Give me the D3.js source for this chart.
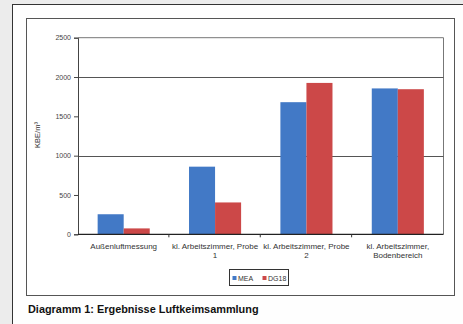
<!DOCTYPE html>
<html>
<head>
<meta charset="utf-8">
<script src="https://cdn.jsdelivr.net/npm/d3@7"></script>
<style>
  body { margin: 0; background: #ececec; }
  text { font-family: "Liberation Sans", Arial, sans-serif; }
</style>
</head>
<body>
<script>
  //chart data
  var categories = ["Außenluftmessung", "kl. Arbeitszimmer, Probe 1", "kl. Arbeitszimmer, Probe 2", "kl. Arbeitszimmer, Bodenbereich"];
  var seriesNames = ["MEA", "DG18"];
  var meaValues = [255, 860, 1680, 1855];
  var dg18Values = [75, 405, 1925, 1845];
  var yTicks = [0, 500, 1000, 1500, 2000, 2500];
  var gridValues = [1000, 2000];
  var colors = ["#4279c6", "#cc4848"];

  var width = 463, height = 324;

  var svg = d3.select("body").append("svg")
      .attr("width", width)
      .attr("height", height);

  //white page with the outer frame
  svg.append("rect")
      .attr("x", 12.5).attr("y", 4.5)
      .attr("width", 470).attr("height", 340)
      .attr("fill", "#fefefe")
      .attr("stroke", "#333")
      .attr("stroke-width", 1);

  //chart area frame
  svg.append("rect")
      .attr("x", 26.5).attr("y", 18.5)
      .attr("width", 428).attr("height", 277)
      .attr("fill", "#fff")
      .attr("stroke", "#555")
      .attr("stroke-width", 1);

  var plot = {left: 78, top: 37.7, right: 443.5, bottom: 234.3};

  var x = d3.scaleBand()
      .domain(categories)
      .range([plot.left, plot.right])
      .paddingInner(0.43)
      .paddingOuter(0.215);

  var x1 = d3.scaleBand()
      .domain(seriesNames)
      .range([0, x.bandwidth()]);

  var y = d3.scaleLinear()
      .domain([0, 2500])
      .range([plot.bottom, plot.top]);

  var g = svg.append("g");

  //plot border (top and right)
  g.append("path")
      .attr("d", "M" + plot.left + "," + y(2500) + "H" + plot.right + "V" + plot.bottom)
      .attr("fill", "none")
      .attr("stroke", "#777")
      .attr("stroke-width", 1);

  //gridlines
  g.selectAll(".grid")
      .data(gridValues)
      .enter()
      .append("line")
      .attr("class", "grid")
      .attr("x1", plot.left).attr("x2", plot.right)
      .attr("y1", function(d){ return Math.round(y(d)) + 0.5; })
      .attr("y2", function(d){ return Math.round(y(d)) + 0.5; })
      .attr("stroke", "#555")
      .attr("stroke-width", 1);

  //bars
  var rows = categories.map(function(c, i){
    return [{cat: c, s: 0, v: meaValues[i]}, {cat: c, s: 1, v: dg18Values[i]}];
  });

  g.selectAll(".grp")
      .data(rows)
      .enter()
      .append("g")
      .attr("class", "grp")
      .attr("transform", function(d){ return "translate(" + x(d[0].cat) + ",0)"; })
      .selectAll("rect")
      .data(function(d){ return d; })
      .enter()
      .append("rect")
      .attr("x", function(d){ return x1(seriesNames[d.s]); })
      .attr("width", x1.bandwidth())
      .attr("y", function(d){ return y(d.v); })
      .attr("height", function(d){ return y(0) - y(d.v); })
      .attr("fill", function(d){ return colors[d.s]; });

  //y axis
  var yAxis = g.append("g")
      .attr("transform", "translate(" + plot.left + ",0)")
      .call(d3.axisLeft(y).tickValues(yTicks).tickSize(4).tickPadding(3).tickFormat(d3.format("d")));
  yAxis.select(".domain").attr("stroke", "#444");
  yAxis.selectAll(".tick line").attr("stroke", "#444");
  yAxis.selectAll("text")
      .attr("font-size", "7px")
      .attr("fill", "#444")
      .style("font-family", "'Liberation Sans', Arial, sans-serif");

  //x axis with ticks between categories
  var step = x.step();
  var xAxis = g.append("g")
      .attr("transform", "translate(0," + plot.bottom + ")");
  xAxis.append("line")
      .attr("x1", plot.left).attr("x2", plot.right)
      .attr("stroke", "#222").attr("stroke-width", 1.2);
  xAxis.selectAll(".xtick")
      .data(categories.slice(1))
      .enter()
      .append("line")
      .attr("class", "xtick")
      .attr("x1", function(d){ return x(d) - step * 0.215 - 0.5; })
      .attr("x2", function(d){ return x(d) - step * 0.215 - 0.5; })
      .attr("y1", 0).attr("y2", 3)
      .attr("stroke", "#333");

  xAxis.selectAll(".xlabel")
      .data(categories)
      .enter()
      .append("text")
      .attr("class", "xlabel")
      .attr("x", function(d){ return x(d) + x.bandwidth() / 2; })
      .attr("y", 14.5)
      .attr("text-anchor", "middle")
      .attr("font-size", "8px")
      .attr("fill", "#333")
      .text(function(d){ return d; })
      .call(wrap, 90);

  function wrap(sel, w){
    sel.each(function(){
      var t = d3.select(this),
          words = t.text().split(/\s+/),
          line = [],
          xx = t.attr("x"),
          tspan = t.text(null).append("tspan").attr("x", xx).attr("dy", 0);
      words.forEach(function(word){
        line.push(word);
        tspan.text(line.join(" "));
        if (tspan.node().getComputedTextLength() > w && line.length > 1){
          line.pop();
          tspan.text(line.join(" "));
          line = [word];
          tspan = t.append("tspan").attr("x", xx).attr("dy", "1.2em").text(word);
        }
      });
    });
  }

  //y axis title
  svg.append("text")
      .attr("transform", "translate(40,135) rotate(-90)")
      .attr("text-anchor", "middle")
      .attr("font-size", "7.5px")
      .attr("fill", "#333")
      .text("KBE/m³");

  //legend
  var legend = svg.append("g").attr("transform", "translate(229.5,269.5)");
  legend.append("rect")
      .attr("width", 59).attr("height", 16)
      .attr("fill", "#fff")
      .attr("stroke", "#333");
  var li = legend.selectAll(".li")
      .data(seriesNames)
      .enter()
      .append("g")
      .attr("class", "li")
      .attr("transform", function(d, i){ return "translate(" + (3 + i * 30) + ",0)"; });
  li.append("rect")
      .attr("x", 0).attr("y", 6.5)
      .attr("width", 4).attr("height", 4)
      .attr("fill", function(d, i){ return colors[i]; });
  li.append("text")
      .attr("x", 5.5).attr("y", 11)
      .attr("font-size", "7px")
      .attr("fill", "#333")
      .text(function(d){ return d; });

  //caption
  svg.append("text")
      .attr("x", 28).attr("y", 313)
      .attr("font-size", "10.9px")
      .attr("font-weight", "bold")
      .attr("fill", "#111")
      .text("Diagramm 1: Ergebnisse Luftkeimsammlung");
</script>
</body>
</html>
